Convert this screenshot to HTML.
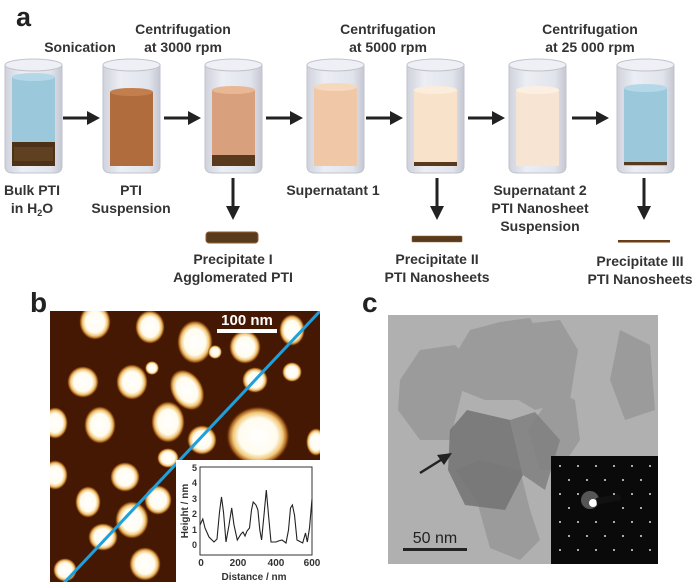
<!DOCTYPE html>
<html><head><meta charset="utf-8"><style>
html,body{margin:0;padding:0;background:#fff;}
svg{display:block;font-family:"Liberation Sans",Arial,sans-serif;}
.t{font-size:14px;font-weight:bold;fill:#333;text-anchor:middle;}
</style></head><body>
<svg width="700" height="584" viewBox="0 0 700 584" xmlns="http://www.w3.org/2000/svg">
<defs>
<linearGradient id="gl" x1="0" x2="1"><stop offset="0" stop-color="#cfd2dc"/><stop offset=".3" stop-color="#eceef4"/><stop offset=".8" stop-color="#e2e4ec"/><stop offset="1" stop-color="#c4c7d2"/></linearGradient>
<radialGradient id="bl"><stop offset="0" stop-color="#fff"/><stop offset=".6" stop-color="#fffbee"/><stop offset=".78" stop-color="#f0c878"/><stop offset=".9" stop-color="#a8601c"/><stop offset="1" stop-color="#4a1c04" stop-opacity="0"/></radialGradient>
<g id="glass"><path d="M0 65 V166 Q0 173 8 173 H49 Q57 173 57 166 V65 Z" fill="url(#gl)" stroke="#c0c3cc"/><ellipse cx="28.5" cy="65" rx="28.5" ry="6" fill="#eef0f5" stroke="#c0c3cc"/></g>
<g id="ar"><line x1="0" y1="0" x2="26" y2="0" stroke="#222" stroke-width="3"/><polygon points="24,-7 37,0 24,7" fill="#222"/></g>
<g id="da"><line x1="0" y1="0" x2="0" y2="30" stroke="#222" stroke-width="3"/><polygon points="-7,28 0,42 7,28" fill="#222"/></g>
</defs>

<text x="16" y="26" style="font-size:27px;font-weight:bold" fill="#222">a</text>
<text class="t" x="80" y="52">Sonication</text>
<text class="t" x="183" y="34">Centrifugation</text><text class="t" x="183" y="52">at 3000 rpm</text>
<text class="t" x="388" y="34">Centrifugation</text><text class="t" x="388" y="52">at 5000 rpm</text>
<text class="t" x="590" y="34">Centrifugation</text><text class="t" x="590" y="52">at 25 000 rpm</text>

<g transform="translate(5,0)"><use href="#glass"/><rect x="7" y="77" width="43" height="89" fill="#9cc8dc"/><ellipse cx="28.5" cy="77" rx="21.5" ry="4" fill="#b4d8e8"/><rect x="7" y="142" width="43" height="24" fill="#4e3218"/><rect x="9" y="147" width="39" height="14" fill="#6b4a28" opacity=".6"/></g>
<g transform="translate(103,0)"><use href="#glass"/><rect x="7" y="92" width="43" height="74" fill="#b06c3c"/><ellipse cx="28.5" cy="92" rx="21.5" ry="4" fill="#c27e4c"/></g>
<g transform="translate(205,0)"><use href="#glass"/><rect x="7" y="90" width="43" height="76" fill="#d8a07c"/><ellipse cx="28.5" cy="90" rx="21.5" ry="4" fill="#e8b894"/><rect x="7" y="155" width="43" height="11" fill="#5a3a1c"/></g>
<g transform="translate(307,0)"><use href="#glass"/><rect x="7" y="87" width="43" height="79" fill="#f0c8a8"/><ellipse cx="28.5" cy="87" rx="21.5" ry="4" fill="#f6d8bc"/></g>
<g transform="translate(407,0)"><use href="#glass"/><rect x="7" y="90" width="43" height="76" fill="#f8e2ca"/><ellipse cx="28.5" cy="90" rx="21.5" ry="4" fill="#fcecdc"/><rect x="7" y="162" width="43" height="4" fill="#5a3a1c"/></g>
<g transform="translate(509,0)"><use href="#glass"/><rect x="7" y="90" width="43" height="76" fill="#f8e4d2"/><ellipse cx="28.5" cy="90" rx="21.5" ry="4" fill="#fcefe2"/></g>
<g transform="translate(617,0)"><use href="#glass"/><rect x="7" y="88" width="43" height="78" fill="#9cc8dc"/><ellipse cx="28.5" cy="88" rx="21.5" ry="4" fill="#b4d8e8"/><rect x="7" y="162" width="43" height="3" fill="#5a3a1c"/></g>

<use href="#ar" x="63" y="118"/><use href="#ar" x="164" y="118"/><use href="#ar" x="266" y="118"/>
<use href="#ar" x="366" y="118"/><use href="#ar" x="468" y="118"/><use href="#ar" x="572" y="118"/>

<text class="t" x="32" y="195">Bulk PTI</text><text class="t" x="32" y="213">in H<tspan font-size="9" dy="3">2</tspan><tspan dy="-3">O</tspan></text>
<text class="t" x="131" y="195">PTI</text><text class="t" x="131" y="213">Suspension</text>
<text class="t" x="333" y="195">Supernatant 1</text>
<text class="t" x="540" y="195">Supernatant 2</text><text class="t" x="540" y="213">PTI Nanosheet</text><text class="t" x="540" y="231">Suspension</text>

<use href="#da" x="233" y="178"/><use href="#da" x="437" y="178"/><use href="#da" x="644" y="178"/>
<rect x="206" y="232" width="52" height="11" rx="3" fill="#5a3a1c" stroke="#8a6030"/>
<rect x="412" y="236" width="50" height="6" rx="1" fill="#5a3a1c" stroke="#8a6030" stroke-width=".6"/>
<rect x="618" y="240" width="52" height="2.5" fill="#6a3e14"/>
<text class="t" x="233" y="264">Precipitate I</text><text class="t" x="233" y="282">Agglomerated PTI</text>
<text class="t" x="437" y="264">Precipitate II</text><text class="t" x="437" y="282">PTI Nanosheets</text>
<text class="t" x="640" y="266">Precipitate III</text><text class="t" x="640" y="284">PTI Nanosheets</text>

<text x="30" y="312" style="font-size:28px;font-weight:bold" fill="#222">b</text>
<text x="362" y="312" style="font-size:28px;font-weight:bold" fill="#222">c</text>

<svg x="50" y="311" width="270" height="271" viewBox="50 311 270 271" overflow="hidden">
<rect x="50" y="311" width="270" height="271" fill="#451804"/>
<g fill="url(#bl)">
<ellipse cx="95" cy="322" rx="16" ry="18"/><ellipse cx="150" cy="327" rx="15" ry="17"/><ellipse cx="195" cy="342" rx="18" ry="22"/><ellipse cx="215" cy="352" rx="7" ry="7"/><ellipse cx="245" cy="347" rx="16" ry="17"/><ellipse cx="292" cy="330" rx="13" ry="16"/>
<ellipse cx="83" cy="382" rx="16" ry="16"/><ellipse cx="132" cy="382" rx="16" ry="18"/><ellipse cx="187" cy="390" rx="16" ry="22" transform="rotate(-30 187 390)"/><ellipse cx="152" cy="368" rx="7" ry="7"/><ellipse cx="292" cy="372" rx="10" ry="10"/><ellipse cx="255" cy="380" rx="13" ry="13"/>
<ellipse cx="100" cy="425" rx="16" ry="19"/><ellipse cx="168" cy="422" rx="17" ry="21"/><ellipse cx="202" cy="440" rx="15" ry="15"/><ellipse cx="258" cy="436" rx="32" ry="30"/><ellipse cx="55" cy="423" rx="13" ry="16"/><ellipse cx="316" cy="442" rx="10" ry="14"/><ellipse cx="168" cy="458" rx="11" ry="10"/>
<ellipse cx="125" cy="477" rx="15" ry="15"/><ellipse cx="55" cy="475" rx="13" ry="15"/><ellipse cx="88" cy="502" rx="13" ry="16"/><ellipse cx="158" cy="500" rx="14" ry="15"/><ellipse cx="132" cy="520" rx="17" ry="19"/><ellipse cx="103" cy="537" rx="15" ry="14"/><ellipse cx="145" cy="564" rx="16" ry="17"/><ellipse cx="65" cy="570" rx="12" ry="12"/>
</g>
<line x1="63" y1="584" x2="322" y2="309" stroke="#1ea0dc" stroke-width="3"/>
<rect x="176" y="460" width="150" height="130" fill="#fff"/>
</svg>
<rect x="217" y="329" width="60" height="4" fill="#fff"/>
<text x="247" y="325" text-anchor="middle" style="font-size:15px;font-weight:bold" fill="#fff">100 nm</text>

<rect x="200" y="467" width="112" height="88" fill="#fff" stroke="#333" stroke-width="1"/>
<polyline fill="none" stroke="#222" stroke-width="1.1" points="200,525 202.8,519 205,528 209,537 214,542 217,539 219.5,512 221.5,497 223.5,512 226,542 229,525 231.7,508 234,525 237.3,540 241,534 243,532 245,536 247,531 249.5,528 251.5,510 253.2,502 256,505 257.9,510 259.8,530 261.6,540 264,515 266.3,490 268.5,515 271,542 276,542 278.4,541 282,540 286,543 288.5,530 290.5,508 292.4,505 294.5,515 297,540 302.7,543 305.5,533 307.3,542 309.5,528 312,499"/>
<g font-size="9" font-weight="bold" fill="#333" text-anchor="end">
<text x="197" y="548">0</text><text x="197" y="533">1</text><text x="197" y="517">2</text><text x="197" y="502">3</text><text x="197" y="486">4</text><text x="197" y="471">5</text></g>
<g font-size="10" font-weight="bold" fill="#333" text-anchor="middle">
<text x="201" y="566">0</text><text x="238" y="566">200</text><text x="276" y="566">400</text><text x="312" y="566">600</text>
<text x="254" y="580">Distance / nm</text></g>
<text transform="translate(188,511) rotate(-90)" font-size="10" font-weight="bold" fill="#333" text-anchor="middle">Height / nm</text>

<svg x="388" y="315" width="270" height="249" viewBox="388 315 270 249">
<rect x="388" y="315" width="270" height="249" fill="#b0b0b0"/>
<g fill="#8e8e8e" opacity=".6">
<polygon points="400,380 420,350 455,345 470,360 450,440 420,440 398,410"/>
<polygon points="458,350 470,330 500,322 530,318 545,345 535,400 485,400 460,390"/>
<polygon points="515,325 560,320 578,350 570,400 535,410 510,395"/>
<polygon points="555,390 575,400 580,440 560,470 540,470 528,430"/>
<polygon points="478,505 510,500 530,510 540,540 520,560 490,548"/>
<polygon points="455,470 480,460 520,470 530,510 490,520"/>
<polygon points="620,330 650,345 655,410 625,420 610,380"/>
</g>
<polygon points="450,430 467,410 510,420 523,475 505,510 465,505 448,470" fill="#737373" opacity=".85"/>
<polygon points="510,420 535,412 560,440 545,490 523,475" fill="#808080" opacity=".85"/>
<rect x="551" y="456" width="107" height="108" fill="#0a0a0a"/>
<circle cx="590" cy="500" r="9" fill="#555"/><circle cx="593" cy="503" r="4" fill="#fff"/>
<g fill="#ddd">
<circle cx="560" cy="466" r="1"/><circle cx="578" cy="466" r="1"/><circle cx="596" cy="466" r="1"/><circle cx="614" cy="466" r="1"/><circle cx="632" cy="466" r="1"/><circle cx="650" cy="466" r="1"/>
<circle cx="569" cy="480" r="1"/><circle cx="587" cy="480" r="1"/><circle cx="605" cy="480" r="1"/><circle cx="623" cy="480" r="1"/><circle cx="641" cy="480" r="1"/>
<circle cx="560" cy="494" r="1"/><circle cx="578" cy="494" r="1"/><circle cx="614" cy="494" r="1"/><circle cx="632" cy="494" r="1"/><circle cx="650" cy="494" r="1"/>
<circle cx="569" cy="508" r="1"/><circle cx="623" cy="508" r="1"/><circle cx="641" cy="508" r="1"/>
<circle cx="560" cy="522" r="1"/><circle cx="578" cy="522" r="1"/><circle cx="596" cy="522" r="1"/><circle cx="614" cy="522" r="1"/><circle cx="632" cy="522" r="1"/><circle cx="650" cy="522" r="1"/>
<circle cx="569" cy="536" r="1"/><circle cx="587" cy="536" r="1"/><circle cx="605" cy="536" r="1"/><circle cx="623" cy="536" r="1"/><circle cx="641" cy="536" r="1"/>
<circle cx="560" cy="550" r="1"/><circle cx="578" cy="550" r="1"/><circle cx="596" cy="550" r="1"/><circle cx="614" cy="550" r="1"/><circle cx="632" cy="550" r="1"/><circle cx="650" cy="550" r="1"/>
</g>
<polygon points="596,498 620,494 621,500 597,505" fill="#111"/>
<line x1="420" y1="473" x2="444" y2="458" stroke="#222" stroke-width="2.5"/>
<polygon points="452,453 437,455 444,465" fill="#222"/>
<rect x="403" y="548" width="64" height="3" fill="#222"/>
<text x="435" y="543" text-anchor="middle" style="font-size:16px" fill="#222">50 nm</text>
</svg>
</svg>
</body></html>
